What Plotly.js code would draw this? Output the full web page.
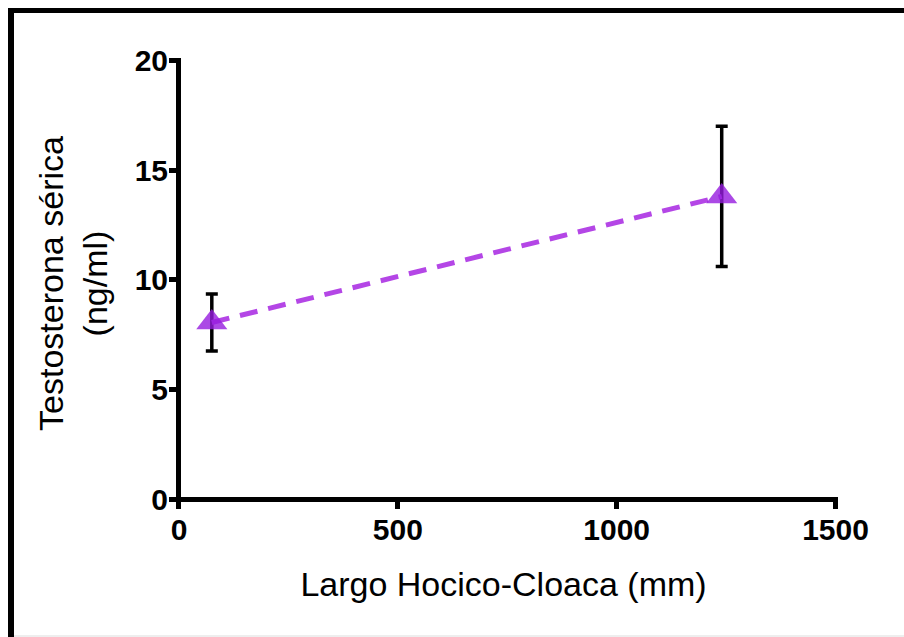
<!DOCTYPE html>
<html>
<head>
<meta charset="utf-8">
<script src="https://cdn.plot.ly/plotly-3.0.1.min.js"></script>
<style>
  html, body { margin: 0; padding: 0; background: #fff; overflow: hidden; }
  #wrap { position: relative; width: 904px; height: 637px; overflow: hidden; }
  #chart { position: absolute; left: 0; top: 0; width: 904px; height: 637px; }
  /* black figure frame: a top rule and a left rule meeting at the corner */
  #frameTop { position: absolute; left: 8px; top: 8px; width: 896px; height: 5px; background: #000; pointer-events: none; }
  #frameLeft { position: absolute; left: 8px; top: 8px; width: 6px; height: 629px; background: #000; pointer-events: none; }
  #foot { position: absolute; left: 14px; top: 635px; width: 890px; height: 2px; background: #eeeeee; }
</style>
</head>
<body>
<div id="wrap">
  <div id="chart"></div>
  <div id="frameTop"></div>
  <div id="frameLeft"></div>
  <div id="foot"></div>
</div>
<script>
// Snout-vent length (mm) against serum testosterone (ng/ml), mean ± error
const svlLength = [75, 1240];
const testosterone = [8.05, 13.8];
const testosteroneErr = [1.3, 3.2];

const xTicks = [0, 500, 1000, 1500];
const yTicks = [0, 5, 10, 15, 20];

const FONT = 'Liberation Sans, Arial, Helvetica, sans-serif';
const W = 904, H = 637;

// plot frame geometry: data zero sits on the axis lines, the extra room
// below/left of zero holds the tick marks that run outward from them
const xZeroPx = 178.5, xMaxPx = 836, yZeroPx = 499.5, yMaxPx = 60;
const tickLen = 10, axisW = 5;
const kx = (xMaxPx - xZeroPx) / 1500;
const ky = (yZeroPx - yMaxPx) / 20;
const xRange = [-tickLen / kx, 1500 + (axisW / 2) / kx];
const yRange = [-tickLen / ky, 20 + (axisW / 2) / ky];

const trace = {
  type: 'scatter',
  mode: 'lines+markers',
  x: svlLength,
  y: testosterone,
  line: { color: 'rgb(180,70,230)', width: 5, dash: '18px,11px' },
  marker: { symbol: 'triangle-up', size: 27, color: 'rgba(150,28,222,0.8)', line: { width: 0 } },
  error_y: { type: 'data', array: testosteroneErr, visible: true, color: '#000', thickness: 3.5, width: 6 },
  hoverinfo: 'skip',
  showlegend: false
};

const axisCommon = {
  showgrid: false,
  showline: false,
  zeroline: true,
  zerolinecolor: '#000',
  zerolinewidth: axisW,
  ticks: 'inside',
  ticklen: tickLen,
  tickwidth: axisW,
  tickcolor: '#000',
  tickmode: 'array',
  tickfont: { family: FONT, size: 30, color: '#000', weight: 'bold' },
  fixedrange: true
};

const layout = {
  width: W,
  height: H,
  paper_bgcolor: '#fff',
  plot_bgcolor: 'rgba(0,0,0,0)',
  margin: { l: xZeroPx - tickLen, r: W - (xMaxPx + axisW / 2), t: yMaxPx - axisW / 2, b: H - (yZeroPx + tickLen) },
  xaxis: Object.assign({}, axisCommon, {
    range: xRange,
    tickvals: xTicks,
    ticktext: xTicks.map(String),
    title: { text: 'Largo Hocico-Cloaca (mm)', font: { family: FONT, size: 34, color: '#000' }, standoff: 27 }
  }),
  yaxis: Object.assign({}, axisCommon, {
    range: yRange,
    tickvals: yTicks,
    ticktext: yTicks.map(String),
    title: { text: 'Testosterona sérica<br>(ng/ml)', font: { family: FONT, size: 34, color: '#000' }, standoff: 16 }
  })
};

Plotly.newPlot('chart', [trace], layout, { displayModeBar: false, staticPlot: true });
</script>
</body>
</html>
